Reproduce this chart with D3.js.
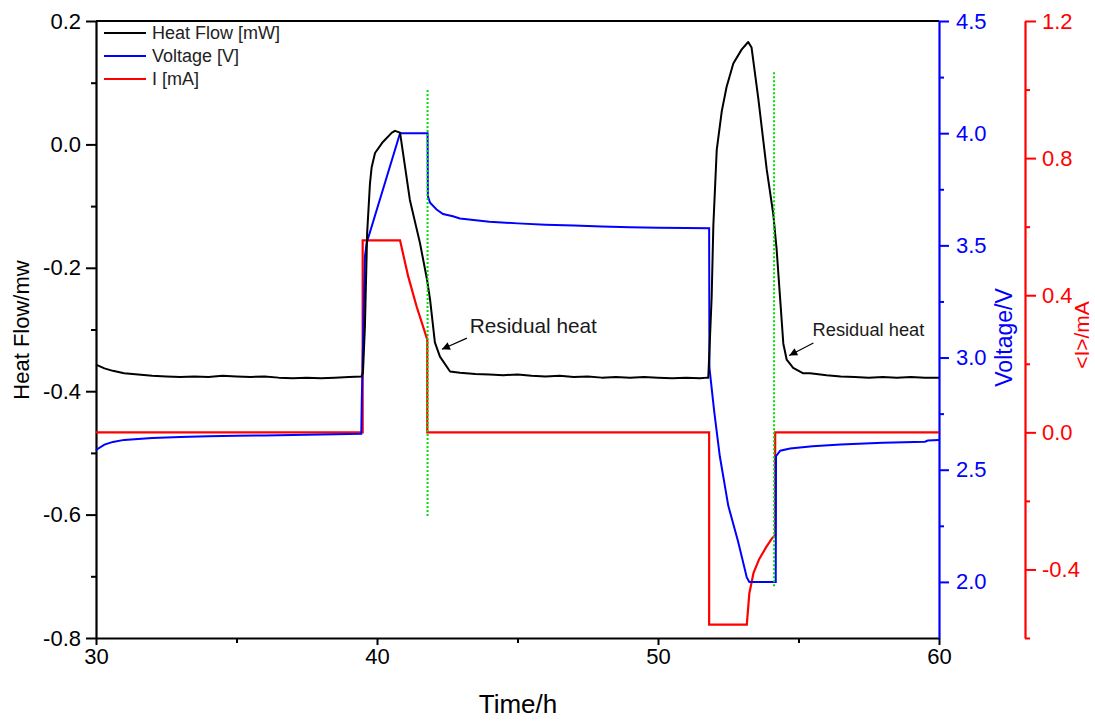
<!DOCTYPE html>
<html>
<head>
<meta charset="utf-8">
<script src="https://cdn.jsdelivr.net/npm/d3@7"></script>
<style>
  html, body { margin: 0; padding: 0; background: #fff; }
  svg { display: block; font-family: "Liberation Sans", Arial, sans-serif; }
</style>
</head>
<body>
<svg id="chart" width="1095" height="723"></svg>
<script>
// Heat flow trace (left axis, mW)
const hfTime = [30, 30.3, 30.6, 31, 31.5, 32, 32.5, 33, 33.5, 34, 34.5, 35, 35.5, 36, 36.5, 37, 37.5, 38, 38.5, 39, 39.45,
  39.5, 39.57, 39.65, 39.75, 39.81, 39.93, 40.21, 40.53, 40.64, 40.82, 41.17, 41.53, 41.78, 41.89, 42.06, 42.24, 42.6, 42.95,
  43.5, 44, 44.5, 45, 45.5, 46, 46.5, 47, 47.5, 48, 48.5, 49, 49.5, 50, 50.5, 51, 51.5, 51.75,
  51.79, 51.91, 51.97, 52.09, 52.27, 52.44, 52.68, 52.98, 53.21, 53.33, 53.57, 53.87, 54.10, 54.22, 54.34, 54.46, 54.58, 54.81, 55.17, 55.41,
  56, 56.5, 57, 57.5, 58, 58.5, 59, 59.5, 60];
const hfValue = [-0.357, -0.363, -0.367, -0.371, -0.373, -0.375, -0.376, -0.377, -0.376, -0.377, -0.375, -0.376, -0.377, -0.376, -0.378, -0.379, -0.378, -0.379, -0.378, -0.377, -0.376,
  -0.370, -0.295, -0.143, -0.063, -0.037, -0.014, 0.004, 0.019, 0.022, 0.019, -0.090, -0.160, -0.219, -0.252, -0.321, -0.344, -0.368, -0.370,
  -0.372, -0.373, -0.374, -0.373, -0.375, -0.376, -0.375, -0.377, -0.376, -0.378, -0.377, -0.378, -0.377, -0.378, -0.379, -0.378, -0.379, -0.378,
  -0.378, -0.247, -0.131, -0.009, 0.054, 0.093, 0.131, 0.154, 0.166, 0.157, 0.074, -0.041, -0.112, -0.169, -0.246, -0.323, -0.349, -0.362, -0.371, -0.371,
  -0.374, -0.376, -0.377, -0.378, -0.377, -0.378, -0.377, -0.378, -0.378];

// Cell voltage (first right axis, V)
const vTime = [30, 30.3, 30.6, 31, 32, 33, 34, 35, 36, 37, 38, 39, 39.44,
  39.46, 39.57, 39.63, 40.82, 41.80, 41.81, 41.89, 42.12, 42.35, 42.70, 42.95, 44, 45, 46, 47, 48, 49, 50, 51, 51.82,
  51.83, 52.0, 52.2, 52.5, 52.85, 53.16, 53.25, 54.19,
  54.20, 54.35, 54.7, 55.5, 56.5, 58, 59.5, 59.6, 60];
const vValue = [2.588, 2.612, 2.624, 2.633, 2.641, 2.646, 2.649, 2.651, 2.653, 2.655, 2.657, 2.659, 2.660,
  2.82, 3.45, 3.51, 4.0, 4.0, 3.72, 3.69, 3.66, 3.64, 3.63, 3.62, 3.605, 3.598, 3.592, 3.588, 3.584, 3.581, 3.579, 3.577, 3.576,
  2.955, 2.76, 2.56, 2.34, 2.18, 2.02, 2.0, 2.0,
  2.56, 2.585, 2.595, 2.605, 2.612, 2.62, 2.625, 2.63, 2.632];

// Mean current (second right axis, mA)
const iTime = [30, 39.49, 39.49, 40.82, 41.11, 41.41, 41.79, 41.79, 51.82, 51.82, 53.16, 53.25, 53.4, 53.6, 53.85, 54.05, 54.17, 54.17, 60];
const iValue = [0, 0, 0.56, 0.56, 0.455, 0.367, 0.27, 0, 0, -0.561, -0.561, -0.47, -0.41, -0.37, -0.335, -0.31, -0.30, 0, 0];

// Dotted markers at the end of each pulse (time, top, bottom on heat-flow scale)
const markerTime = [41.80, 54.13];
const markerTop = [0.088, 0.117];
const markerBottom = [-0.605, -0.716];

// Annotation labels: text position and arrow from/to (heat-flow scale)
const noteText = ["Residual heat", "Residual heat"];
const noteTime = [43.3, 55.5];
const noteValue = [-0.306, -0.31];
const noteSize = [20.8, 18.3];
const arrowFromTime = [43.2, 55.53];
const arrowFromValue = [-0.314, -0.322];
const arrowToTime = [42.31, 54.67];
const arrowToValue = [-0.332, -0.342];

// Axis ticks
const timeTicks = [30, 40, 50, 60];
const timeMinor = [35, 45, 55];
const hfTicks = [-0.8, -0.6, -0.4, -0.2, 0.0, 0.2];
const hfMinor = [-0.7, -0.5, -0.3, -0.1, 0.1];
const vTicks = [2.0, 2.5, 3.0, 3.5, 4.0, 4.5];
const vMinor = [2.25, 2.75, 3.25, 3.75, 4.25];
const iTicks = [-0.4, 0.0, 0.4, 0.8, 1.2];
const iMinor = [-0.6, -0.2, 0.2, 0.6, 1.0];

const legendNames = ["Heat Flow [mW]", "Voltage [V]", "I [mA]"];
const legendColors = ["#000000", "#0000ff", "#ff0000"];

const L = 96, R = 939, T = 21, B = 638;
const redAxisX = 1025;

const svg = d3.select("#chart");

const x = d3.scaleLinear().domain([30, 60]).range([L, R]);
const yHF = d3.scaleLinear().domain([-0.8, 0.2]).range([B, T]);
const yV = d3.scaleLinear().domain([1.75, 4.5]).range([B, T]);
const yI = d3.scaleLinear().domain([-0.6, 1.2]).range([B, T]);

const fmt1 = d => d.toFixed(1);
const tickFont = 22;

function styleAxis(g, color, size) {
  g.select(".domain").attr("stroke", color).attr("stroke-width", 2.2);
  g.selectAll(".tick line").attr("stroke", color).attr("stroke-width", 2);
  g.selectAll(".tick text").attr("fill", color).attr("font-size", size)
    .attr("font-family", "'Liberation Sans', Arial, sans-serif");
}

// Top frame line
svg.append("line").attr("x1", L).attr("x2", R).attr("y1", T).attr("y2", T)
  .attr("stroke", "#000").attr("stroke-width", 2.2);

// Bottom axis
const gx = svg.append("g").attr("transform", `translate(0,${B})`)
  .call(d3.axisBottom(x).tickValues(timeTicks).tickFormat(d3.format("d")).tickSize(7).tickPadding(3).tickSizeOuter(0));
styleAxis(gx, "#000", tickFont);
svg.append("g").attr("transform", `translate(0,${B})`)
  .call(d3.axisBottom(x).tickValues(timeMinor).tickFormat("").tickSize(5).tickSizeOuter(0))
  .call(g => { g.select(".domain").remove(); g.selectAll("line").attr("stroke", "#000").attr("stroke-width", 2); });

// Left axis
const gl = svg.append("g").attr("transform", `translate(${L},0)`)
  .call(d3.axisLeft(yHF).tickValues(hfTicks).tickFormat(fmt1).tickSize(10).tickPadding(5).tickSizeOuter(0));
styleAxis(gl, "#000", tickFont);
svg.append("g").attr("transform", `translate(${L},0)`)
  .call(d3.axisLeft(yHF).tickValues(hfMinor).tickFormat("").tickSize(5).tickSizeOuter(0))
  .call(g => { g.select(".domain").remove(); g.selectAll("line").attr("stroke", "#000").attr("stroke-width", 2); });

// Voltage axis
const gv = svg.append("g").attr("transform", `translate(${R},0)`)
  .call(d3.axisRight(yV).tickValues(vTicks).tickFormat(fmt1).tickSize(10).tickPadding(7).tickSizeOuter(0));
styleAxis(gv, "#0000ff", tickFont);
svg.append("g").attr("transform", `translate(${R},0)`)
  .call(d3.axisRight(yV).tickValues(vMinor).tickFormat("").tickSize(5).tickSizeOuter(0))
  .call(g => { g.select(".domain").remove(); g.selectAll("line").attr("stroke", "#0000ff").attr("stroke-width", 2); });

// Current axis
const gi = svg.append("g").attr("transform", `translate(${redAxisX},0)`)
  .call(d3.axisRight(yI).tickValues(iTicks).tickFormat(fmt1).tickSize(11).tickPadding(6).tickSizeOuter(0));
styleAxis(gi, "#ff0000", tickFont);
svg.append("g").attr("transform", `translate(${redAxisX},0)`)
  .call(d3.axisRight(yI).tickValues(iMinor).tickFormat("").tickSize(5).tickSizeOuter(0))
  .call(g => { g.select(".domain").remove(); g.selectAll("line").attr("stroke", "#ff0000").attr("stroke-width", 2); });

// Axis titles
svg.append("text").attr("x", 518).attr("y", 713).attr("text-anchor", "middle")
  .attr("font-size", 26).attr("fill", "#000").text("Time/h");
svg.append("text").attr("transform", `translate(29,${(257 + 403) / 2}) rotate(-90)`)
  .attr("text-anchor", "middle").attr("font-size", 22).attr("fill", "#000").text("Heat Flow/mw");
svg.append("text").attr("transform", `translate(1012,${(282 + 393) / 2}) rotate(-90)`)
  .attr("text-anchor", "middle").attr("font-size", 23).attr("fill", "#0000ff").text("Voltage/V");
svg.append("text").attr("transform", `translate(1089,${(300 + 370) / 2}) rotate(-90)`)
  .attr("text-anchor", "middle").attr("font-size", 21).attr("fill", "#ff0000").text("<I>/mA");

// Series lines
const hfData = hfTime.map((t, i) => [t, hfValue[i]]);
const vData = vTime.map((t, i) => [t, vValue[i]]);
const iData = iTime.map((t, i) => [t, iValue[i]]);

svg.append("path").datum(iData).attr("fill", "none").attr("stroke", "#ff0000").attr("stroke-width", 2.2)
  .attr("stroke-linejoin", "miter")
  .attr("d", d3.line().x(d => x(d[0])).y(d => yI(d[1])));
svg.append("path").datum(vData).attr("fill", "none").attr("stroke", "#0000ff").attr("stroke-width", 2)
  .attr("d", d3.line().x(d => x(d[0])).y(d => yV(d[1])));
svg.append("path").datum(hfData).attr("fill", "none").attr("stroke", "#000").attr("stroke-width", 2)
  .attr("stroke-linejoin", "round")
  .attr("d", d3.line().x(d => x(d[0])).y(d => yHF(d[1])));

// Dotted pulse-end markers
markerTime.forEach((t, i) => {
  svg.append("line").attr("x1", x(t)).attr("x2", x(t))
    .attr("y1", yHF(markerTop[i])).attr("y2", yHF(markerBottom[i]))
    .attr("stroke", "#00dd00").attr("stroke-width", 2).attr("stroke-dasharray", "2,2");
});

// Arrowhead marker
svg.append("defs").append("marker").attr("id", "arrow").attr("viewBox", "0 0 10 10")
  .attr("refX", 10).attr("refY", 5).attr("markerWidth", 11).attr("markerHeight", 8)
  .attr("markerUnits", "userSpaceOnUse").attr("orient", "auto")
  .append("path").attr("d", "M0,0 L10,5 L0,10 Z").attr("fill", "#000");

// Annotations
noteText.forEach((s, i) => {
  svg.append("text").attr("x", x(noteTime[i])).attr("y", yHF(noteValue[i]))
    .attr("font-size", noteSize[i]).attr("fill", "#1a1a1a").text(s);
  svg.append("line")
    .attr("x1", x(arrowFromTime[i])).attr("y1", yHF(arrowFromValue[i]))
    .attr("x2", x(arrowToTime[i])).attr("y2", yHF(arrowToValue[i]))
    .attr("stroke", "#000").attr("stroke-width", 1.2).attr("marker-end", "url(#arrow)");
});

// Legend
const legend = svg.append("g");
legendNames.forEach((name, i) => {
  const ly = 33 + i * 23;
  legend.append("line").attr("x1", 104).attr("x2", 146).attr("y1", ly).attr("y2", ly)
    .attr("stroke", legendColors[i]).attr("stroke-width", 2.2);
  legend.append("text").attr("x", 152).attr("y", ly + 6).attr("font-size", 18)
    .attr("fill", "#222").text(name);
});
</script>
</body>
</html>
